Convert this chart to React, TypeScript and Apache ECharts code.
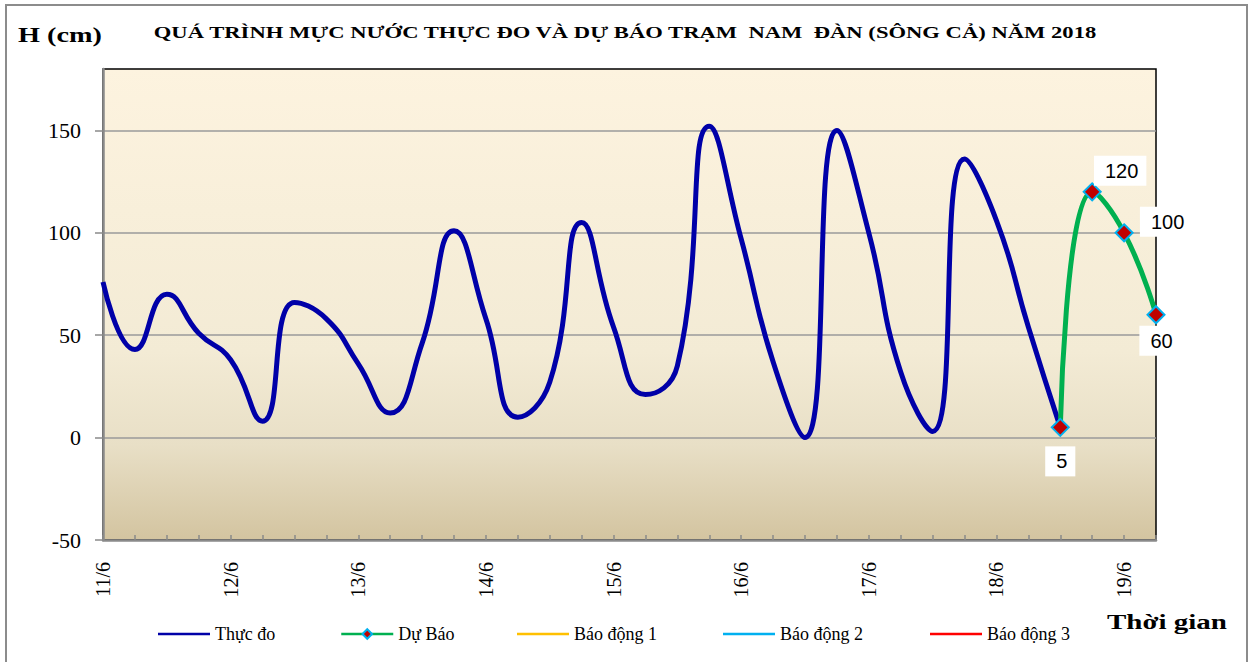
import React, { useEffect, useRef } from "react";
import * as echarts from "echarts";

const days = ["11/6", "12/6", "13/6", "14/6", "15/6", "16/6", "17/6", "18/6", "19/6"];
const hours = ["1h", "7h", "13h", "19h"];
const categories = days.flatMap((d) => hours.map((h) => d + " " + h)).slice(0, 34);

const observed = [
  76, 43, 70, 51, 38, 8, 66, 58, 36, 12, 46, 101, 58, 10, 27, 105, 54, 21, 35, 152,
  97, 37, 0, 150, 100, 32, 3, 136, 106, 54, 5,
];
const forecastStart = 30;
const forecast = [5, 120, 100, 60];

const legendNames = ["Thực đo", "Dự Báo", "Báo động 1", "Báo động 2", "Báo động 3"];
const legendColors = ["#0000A8", "#00B050", "#FFC000", "#00B0F0", "#FF0000"];
const yTicks = { min: -50, max: 180, interval: 50 };

const SERIF = '"Liberation Serif", "Times New Roman", serif';
const SANS = '"Liberation Sans", Arial, sans-serif';

function measure(text: string, font: string): number {
  const c = document.createElement("canvas").getContext("2d");
  if (!c) return text.length * 10;
  c.font = font;
  return c.measureText(text).width;
}

function stretchedText(text: string, x: number, y: number, size: number, target: number) {
  const font = `bold ${size}px ${SERIF}`;
  const w = measure(text, font);
  return {
    type: "text",
    x,
    y,
    scaleX: target / w,
    silent: true,
    style: {
      text,
      font,
      fill: "#000",
      align: "center",
      verticalAlign: "middle",
      textAlign: "center",
      textVerticalAlign: "middle",
    },
  };
}

export default function App() {
  const ref = useRef<HTMLDivElement>(null);

  useEffect(() => {
    document.body.style.margin = "0";
    if (!ref.current) return;
    const chart = echarts.init(ref.current, null, { renderer: "svg" });

    const obsData = categories.map((_, i) => (i < observed.length ? observed[i] : null));
    const labelOffsets: number[][] = [
      [0, 34],
      [28, -21],
      [42, -11],
      [4, 26],
    ];
    const fcData = categories.map((_, i) => {
      const k = i - forecastStart;
      if (k < 0 || k >= forecast.length) return null;
      return {
        value: forecast[k],
        label: { position: "inside", offset: labelOffsets[k] },
      };
    });
    const empty = categories.map(() => null);

    const legendLefts = [153, 335, 512, 718, 925];

    chart.setOption({
      animation: false,
      backgroundColor: "#fff",
      grid: {
        left: 103,
        top: 69,
        right: 97,
        bottom: 122,
        show: true,
        borderColor: "#000",
        borderWidth: 1.5,
        backgroundColor: new echarts.graphic.LinearGradient(0, 0, 0, 1, [
          { offset: 0, color: "#FDF3DF" },
          { offset: 0.6, color: "#F3EBD5" },
          { offset: 0.8, color: "#E8DFC6" },
          { offset: 1, color: "#D3C4A0" },
        ]),
      },
      legend: legendNames.map((n, i) => {
        const isMarker = i === 1;
        return {
          data: [
            isMarker
              ? { name: n }
              : { name: n, icon: "rect", itemStyle: { color: legendColors[i] } },
          ],
          left: legendLefts[i],
          top: 620,
          itemWidth: 52,
          itemHeight: isMarker ? 12 : 2.5,
          selectedMode: false,
          lineStyle: { width: 2.5 },
          textStyle: { fontFamily: SERIF, fontSize: 18, color: "#000" },
        };
      }),
      xAxis: {
        type: "category",
        data: categories,
        boundaryGap: false,
        axisLine: { show: true, onZero: false, lineStyle: { color: "#8a8a8a", width: 2.5 } },
        axisTick: { show: true, inside: true, length: 5, interval: 0, lineStyle: { color: "#8a8a8a", width: 1.5 } },
        axisLabel: {
          interval: 3,
          rotate: 90,
          margin: 22,
          fontFamily: SERIF,
          fontSize: 20,
          color: "#000",
          formatter: (v: string) => v.split(" ")[0],
        },
        splitLine: { show: false },
      },
      yAxis: {
        type: "value",
        min: yTicks.min,
        max: yTicks.max,
        interval: yTicks.interval,
        axisLine: { show: true, lineStyle: { color: "#8a8a8a", width: 2.5 } },
        axisTick: { show: true, inside: false, length: 8, lineStyle: { color: "#8a8a8a", width: 1.5 } },
        axisLabel: { showMaxLabel: false, margin: 22, fontFamily: SERIF, fontSize: 22, color: "#000" },
        splitLine: { show: true, showMaxLine: false, showMinLine: false, lineStyle: { color: "#9a9a9a", width: 1.5 } },
      },
      series: [
        {
          name: legendNames[0],
          type: "line",
          data: obsData,
          smooth: 0.5,
          symbol: "none",
          color: legendColors[0],
          lineStyle: { color: legendColors[0], width: 5 },
          z: 2,
        },
        {
          name: legendNames[1],
          type: "line",
          data: fcData,
          smooth: 0.5,
          symbol: "diamond",
          symbolSize: 17,
          showSymbol: true,
          color: legendColors[1],
          lineStyle: { color: legendColors[1], width: 5 },
          itemStyle: { color: "#C00000", borderColor: "#00B0F0", borderWidth: 2 },
          label: {
            show: true,
            fontFamily: SANS,
            fontSize: 20,
            color: "#000",
            backgroundColor: "#fff",
            padding: [5, 8, 5, 11],
          },
          z: 3,
        },
        {
          name: legendNames[2],
          type: "line",
          data: empty,
          symbol: "none",
          color: legendColors[2],
          lineStyle: { color: legendColors[2], width: 2 },
        },
        {
          name: legendNames[3],
          type: "line",
          data: empty,
          symbol: "none",
          color: legendColors[3],
          lineStyle: { color: legendColors[3], width: 2 },
        },
        {
          name: legendNames[4],
          type: "line",
          data: empty,
          symbol: "none",
          color: legendColors[4],
          lineStyle: { color: legendColors[4], width: 2 },
        },
      ],
      graphic: [
        {
          type: "rect",
          silent: true,
          shape: { x: 6, y: 5, width: 1241, height: 700 },
          style: { fill: "none", stroke: "#8c8c8c", lineWidth: 2 },
        },
        stretchedText("H (cm)", 60, 34, 22, 84),
        stretchedText(
          "QUÁ TRÌNH MỰC NƯỚC THỰC ĐO VÀ DỰ BÁO TRẠM  NAM  ĐÀN (SÔNG CẢ) NĂM 2018",
          625,
          32,
          17,
          944
        ),
        stretchedText("Thời gian", 1167, 622, 22, 120),
      ],
    });

    return () => chart.dispose();
  }, []);

  return <div ref={ref} style={{ width: 1253, height: 662 }} />;
}
